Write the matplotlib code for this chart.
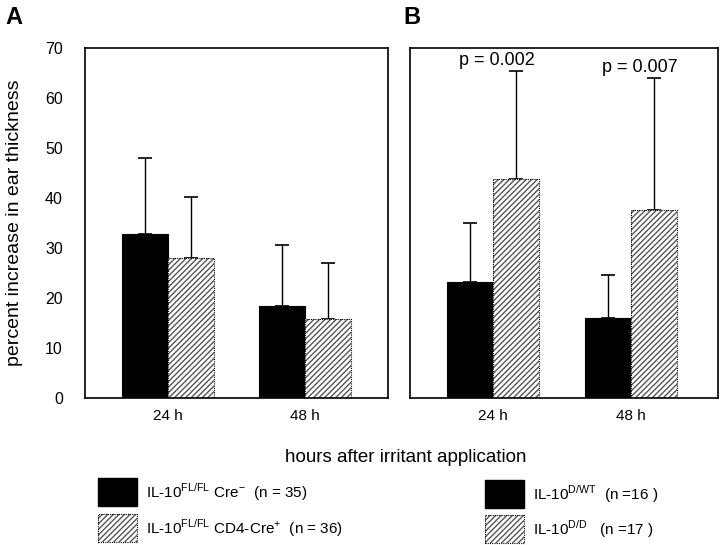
import matplotlib
matplotlib.use("Agg")
import matplotlib.pyplot as plt
import numpy as np
from matplotlib.patches import Rectangle

plt.rcParams['font.family'] = ['Liberation Sans', 'DejaVu Sans']
plt.rcParams['hatch.linewidth'] = 1.0

categories = ["24 h", "48 h"]
# Panel A
a_ctrl = [32.8, 18.4]
a_ctrl_err = [15.2, 12.3]
a_ko = [28.0, 15.8]
a_ko_err = [12.2, 11.3]
# Panel B
b_wt = [23.3, 16.1]
b_wt_err = [11.8, 8.6]
b_dd = [43.8, 37.6]
b_dd_err = [21.6, 26.5]
p_texts = ["p = 0.002", "p = 0.007"]

fig = plt.figure(figsize=(7.2, 5.45), dpi=100)
axA = fig.add_axes([85/720, 1-398/545, 303/720, 350/545])
axB = fig.add_axes([410/720, 1-398/545, 308/720, 350/545])

x = np.arange(len(categories))
w = 0.336
HATCH = '//////'
HCOL = '#555555'

def draw(ax, v1, e1, v2, e2, xlim):
    ax.bar(x - w/2, v1, w, color='black', edgecolor='black', linewidth=0.8, zorder=2)
    ax.bar(x + w/2, v2, w, color='white', edgecolor=HCOL, hatch=HATCH, linewidth=0, zorder=2)
    ax.bar(x + w/2, v2, w, color='none', edgecolor='black', linewidth=0.8, linestyle=(0, (1, 1)), zorder=3)
    for xs, v, e in ((x - w/2, v1, e1), (x + w/2, v2, e2)):
        ax.errorbar(xs, v, yerr=[np.zeros(len(v)), e], fmt='none', ecolor='black',
                    elinewidth=1, capsize=5, capthick=1.2, zorder=1)
    ax.set_xlim(*xlim)
    ax.set_ylim(0, 70)
    ax.set_xticks(x)
    ax.set_xticklabels(categories, fontsize=11)
    ax.tick_params(axis='x', length=0, pad=8)
    ax.tick_params(axis='y', length=0)
    for s in ax.spines.values():
        s.set_linewidth(1.2)

draw(axA, a_ctrl, a_ctrl_err, a_ko, a_ko_err, (-0.606, 1.606))
draw(axB, b_wt, b_wt_err, b_dd, b_dd_err, (-0.601, 1.631))
axA.set_yticks(range(0, 71, 10))
axA.tick_params(axis='y', labelsize=11.5, pad=16)
axB.set_yticks([])

p_dx = [0.03, 0.065]
for i, t in enumerate(p_texts):
    top = b_dd[i] + b_dd_err[i]
    axB.text(x[i] + p_dx[i], top + 0.4, t, ha='center', va='bottom', fontsize=13)

axA.set_ylabel("percent increase in ear thickness", fontsize=14, labelpad=15.5)
fig.text(5/720, 1-18/545, "A", fontsize=17, fontweight='bold', va='center', ha='left')
fig.text(403/720, 1-18/545, "B", fontsize=17, fontweight='bold', va='center', ha='left')
fig.text(406/720, 1-457/545, "hours after irritant application", fontsize=13.5, ha='center', va='center')

# Legend
def legbox(x0, y0, hatched):
    xy = (x0/720, 1-(y0+28)/545)
    ww, hh = 39/720, 28/545
    if hatched:
        fig.patches.append(Rectangle(xy, ww, hh, transform=fig.transFigure,
                                     facecolor='white', edgecolor=HCOL, hatch=HATCH, linewidth=0))
        fig.patches.append(Rectangle(xy, ww, hh, transform=fig.transFigure,
                                     facecolor='none', edgecolor='black', linewidth=0.8, linestyle=(0, (1, 1))))
    else:
        fig.patches.append(Rectangle(xy, ww, hh, transform=fig.transFigure,
                                     facecolor='black', edgecolor='black'))

legbox(98, 478, False)
legbox(98, 514, True)
legbox(485, 480, False)
legbox(485, 515, True)
fs = 11
fig.text(146/720, 1-492/545, r"IL-10$^{\mathregular{FL/FL}}$ Cre$^{\mathregular{-}}$  (n = 35)", fontsize=fs, va='center')
fig.text(146/720, 1-528/545, r"IL-10$^{\mathregular{FL/FL}}$ CD4-Cre$^{\mathregular{+}}$  (n = 36)", fontsize=fs, va='center')
fig.text(533/720, 1-494/545, r"IL-10$^{\mathregular{D/WT}}$  (n =16 )", fontsize=fs, va='center')
fig.text(533/720, 1-529/545, r"IL-10$^{\mathregular{D/D}}$   (n =17 )", fontsize=fs, va='center')

fig.savefig("out.png", dpi=100)
